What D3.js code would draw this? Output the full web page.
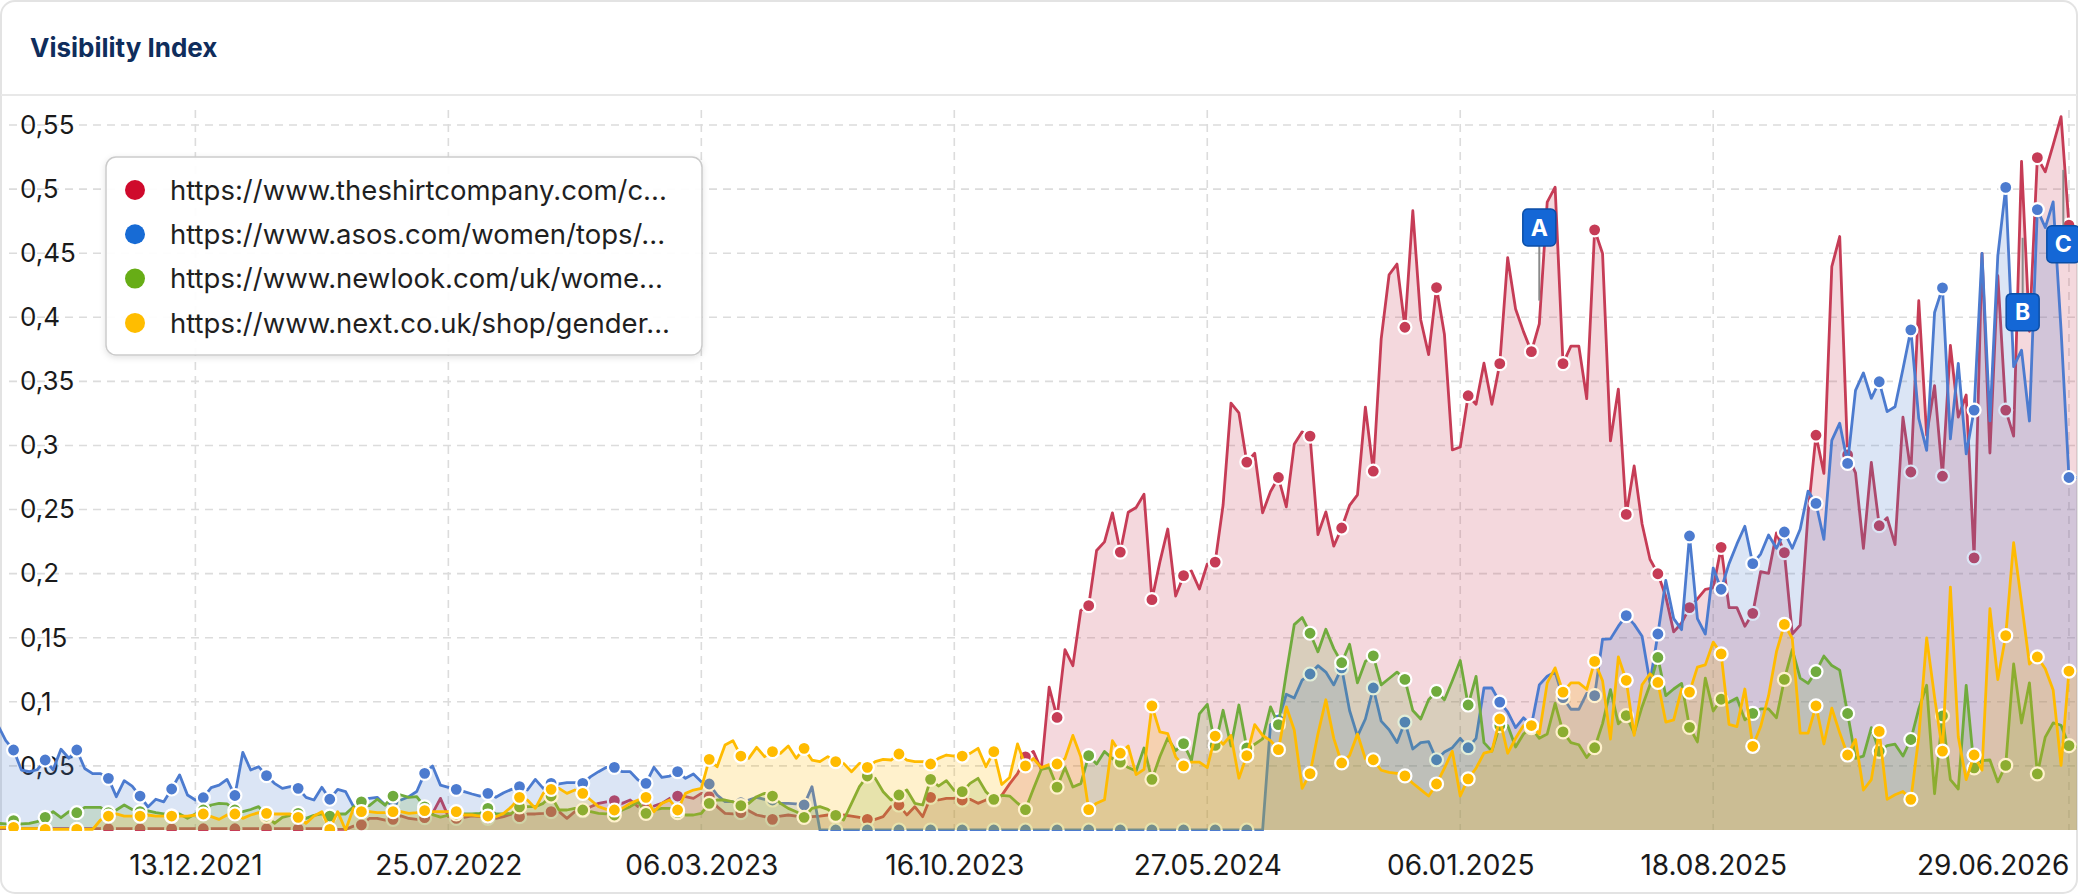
<!DOCTYPE html>
<html>
<head>
<meta charset="utf-8">
<script src="https://cdn.jsdelivr.net/npm/d3@7"></script>
<style>
  html, body { margin: 0; padding: 0; background: #fff; }
  svg { display: block; font-family: Inter, "Noto Sans", sans-serif; }
</style>
</head>
<body>
<div id="container"></div>
<script>
/* CONSTANTS AND GLOBALS */
const width = 2078;
const height = 896;
const plot = { left: 0, right: 2078, top: 110, bottom: 830 };

/* DATA */
const seriesNames = [
  "https://www.theshirtcompany.com/c...",
  "https://www.asos.com/women/tops/...",
  "https://www.newlook.com/uk/wome...",
  "https://www.next.co.uk/shop/gender..."
];
const lineColors = ["#c63c56", "#4c7bcf", "#70ab3d", "#ffbb00"];
const legendColors = ["#cf0a2c", "#176bd5", "#67ad16", "#ffbd00"];

// weekly values, first week 21.06.2021
const firstWeek = "21.06.2021";

const red = [
  0.001, 0.001, 0.001, 0.001, 0.001, 0.001, 0.001, 0.001, 0.001, 0.001,
  0.001, 0.001, 0.001, 0.001, 0.001, 0.001, 0.001, 0.001, 0.001, 0.001,
  0.001, 0.001, 0.001, 0.001, 0.001, 0.001, 0.001, 0.001, 0.001, 0.001,
  0.001, 0.001, 0.001, 0.001, 0.001, 0.001, 0.001, 0.001, 0.001, 0.001,
  0.001, 0.001, 0.001, 0.0005, 0.0005, 0.003, 0.004, 0.009, 0.009, 0.0078,
  0.0083, 0.011, 0.009, 0.0083, 0.0096, 0.013, 0.0247, 0.0104, 0.009, 0.0099,
  0.011, 0.0104, 0.009, 0.009, 0.0104, 0.0125, 0.0104, 0.0125, 0.0125, 0.013,
  0.0143, 0.0143, 0.0091, 0.0143, 0.015, 0.0182, 0.0208, 0.022, 0.0229, 0.0208,
  0.0234, 0.0182, 0.0169, 0.0187, 0.0208, 0.0247, 0.0265, 0.026, 0.0247, 0.0286,
  0.026, 0.0182, 0.013, 0.0125, 0.0135, 0.015, 0.0117, 0.0104, 0.0083, 0.0109,
  0.0117, 0.0109, 0.0104, 0.0104, 0.0109, 0.0117, 0.0104, 0.0117, 0.0109, 0.0099,
  0.0083, 0.0083, 0.0104, 0.0182, 0.0195, 0.0117, 0.0182, 0.0104, 0.0255, 0.0234,
  0.0247, 0.0247, 0.0234, 0.0239, 0.0208, 0.0234, 0.0234, 0.027, 0.036, 0.044,
  0.0571, 0.0613, 0.0472, 0.1115, 0.0878, 0.1407, 0.1282, 0.1713, 0.175, 0.2181,
  0.2248, 0.2474, 0.2168, 0.2479, 0.2516, 0.2619, 0.1797, 0.209, 0.2348, 0.1825,
  0.1984, 0.202, 0.188, 0.2075, 0.209, 0.2535, 0.333, 0.3254, 0.287, 0.2939,
  0.2474, 0.2641, 0.275, 0.2521, 0.3009, 0.3106, 0.3073, 0.2305, 0.2482, 0.2215,
  0.2356, 0.2532, 0.2615, 0.3299, 0.2799, 0.3831, 0.4332, 0.4415, 0.3922, 0.4831,
  0.3981, 0.3708, 0.4232, 0.3865, 0.2965, 0.2988, 0.3388, 0.3321, 0.3642, 0.3321,
  0.3638, 0.4465, 0.4065, 0.3888, 0.3732, 0.3948, 0.4899, 0.5015, 0.3638, 0.3775,
  0.3775, 0.3365, 0.4682, 0.4498, 0.3035, 0.344, 0.2462, 0.284, 0.2387, 0.2112,
  0.1999, 0.1821, 0.1546, 0.1615, 0.1735, 0.1803, 0.1878, 0.1889, 0.2205, 0.1735,
  0.1735, 0.159, 0.169, 0.2016, 0.2002, 0.2318, 0.2164, 0.1529, 0.1598, 0.2473,
  0.308, 0.2782, 0.4395, 0.463, 0.2926, 0.2786, 0.2197, 0.2867, 0.2374, 0.2437,
  0.2227, 0.3221, 0.2793, 0.4129, 0.308, 0.3467, 0.276, 0.378, 0.3221, 0.3394,
  0.2123, 0.4498, 0.2941, 0.4324, 0.3276, 0.3073, 0.5216, 0.3891, 0.5245, 0.5135,
  0.5345, 0.5565, 0.4719, 0.46
];

const blue = [
  0.082, 0.070, 0.0624, 0.0468, 0.0455, 0.047, 0.0546, 0.047, 0.063, 0.056,
  0.0624, 0.048, 0.044, 0.044, 0.0403, 0.026, 0.0385, 0.0343, 0.0265, 0.018,
  0.024, 0.022, 0.032, 0.043, 0.0273, 0.0234, 0.0252, 0.033, 0.035, 0.0395,
  0.0269, 0.0606, 0.0468, 0.0494, 0.0424, 0.0364, 0.0325, 0.0338, 0.0325, 0.0255,
  0.0234, 0.0333, 0.024, 0.0317, 0.0299, 0.0182, 0.022, 0.0247, 0.0255, 0.0195,
  0.022, 0.0234, 0.026, 0.03, 0.0442, 0.05, 0.035, 0.0333, 0.0317, 0.03,
  0.0281, 0.0265, 0.0286, 0.0255, 0.0291, 0.0317, 0.0338, 0.0312, 0.0395, 0.0325,
  0.0364, 0.0359, 0.0369, 0.0369, 0.0364, 0.0416, 0.0455, 0.0489, 0.0489, 0.0455,
  0.0455, 0.039, 0.0364, 0.0489, 0.0411, 0.0421, 0.0455, 0.0403, 0.0437, 0.0377,
  0.0359, 0.0273, 0.0221, 0.0221, 0.0213, 0.0234, 0.0255, 0.0239, 0.0234, 0.0208,
  0.0208, 0.0203, 0.0195, 0.0338, 0, 0, 0, 0, 0, 0,
  0, 0, 0, 0, 0, 0, 0, 0, 0, 0,
  0, 0, 0, 0, 0, 0, 0, 0, 0, 0,
  0, 0, 0, 0, 0, 0, 0, 0, 0, 0,
  0, 0, 0, 0, 0, 0, 0, 0, 0, 0,
  0, 0, 0, 0, 0, 0, 0, 0, 0, 0,
  0, 0.0822, 0.0858, 0.1059, 0.103, 0.117, 0.1217, 0.1282, 0.1232, 0.1132,
  0.1265, 0.0932, 0.0732, 0.0866, 0.1108, 0.0849, 0.0782, 0.0682, 0.0842, 0.0632,
  0.0682, 0.0689, 0.0548, 0.0608, 0.0642, 0.0715, 0.0642, 0.0715, 0.1108, 0.1108,
  0.0998, 0.0922, 0.0799, 0.0875, 0.0815, 0.1132, 0.1199, 0.1232, 0.1032, 0.0942,
  0.0942, 0.1066, 0.1048, 0.1488, 0.1491, 0.159, 0.1672, 0.1604, 0.1511, 0.115,
  0.1529, 0.1947, 0.1649, 0.1563, 0.2294, 0.1649, 0.1529, 0.2044, 0.1878, 0.2078,
  0.2232, 0.237, 0.2078, 0.2153, 0.2301, 0.2198, 0.2325, 0.2198, 0.2346, 0.2644,
  0.2548, 0.2267, 0.304, 0.3174, 0.286, 0.343, 0.3566, 0.3368, 0.3497, 0.3264,
  0.3302, 0.3596, 0.3902, 0.321, 0.2962, 0.4037, 0.4229, 0.3051, 0.364, 0.2934,
  0.3276, 0.4498, 0.3191, 0.448, 0.5013, 0.3615, 0.3743, 0.3191, 0.484, 0.47,
  0.49, 0.39, 0.275, 0.275
];

const green = [
  0.0052, 0.0047, 0.0073, 0.0047, 0.0052, 0.0065, 0.0099, 0.0143, 0.0096, 0.0143,
  0.0135, 0.0177, 0.0177, 0.0177, 0.0135, 0.0156, 0.0195, 0.016, 0.0143, 0.015,
  0.0135, 0.0125, 0.0109, 0.0125, 0.0091, 0.0125, 0.0156, 0.0195, 0.0208, 0.0203,
  0.0156, 0.0143, 0.016, 0.0182, 0.0109, 0.0052, 0.0099, 0.0114, 0.013, 0.0091,
  0.0114, 0.0125, 0.0109, 0.0125, 0.0125, 0.0182, 0.022, 0.019, 0.024, 0.0195,
  0.0265, 0.0273, 0.0255, 0.026, 0.018, 0.012, 0.010, 0.0115, 0.0125, 0.0125,
  0.0125, 0.013, 0.0169, 0.0125, 0.0125, 0.013, 0.018, 0.0182, 0.0182, 0.0208,
  0.0265, 0.0156, 0.0156, 0.0169, 0.0156, 0.0143, 0.013, 0.0125, 0.0117, 0.0156,
  0.0182, 0.022, 0.013, 0.0156, 0.0169, 0.0169, 0.0135, 0.0117, 0.0117, 0.013,
  0.0208, 0.0234, 0.0234, 0.022, 0.019, 0.0208, 0.026, 0.0286, 0.0265, 0.0208,
  0.0169, 0.0143, 0.0099, 0.0169, 0.0182, 0.0161, 0.0114, 0.0078, 0.0208, 0.0338,
  0.0421, 0.0403, 0.0299, 0.0234, 0.0273, 0.0312, 0.0208, 0.0195, 0.0395, 0.0343,
  0.0385, 0.0307, 0.0299, 0.0364, 0.0403, 0.0299, 0.0239, 0.027, 0.0265, 0.0209,
  0.0159, 0.032, 0.0473, 0.0487, 0.0335, 0.0487, 0.0335, 0.0362, 0.058, 0.0515,
  0.0613, 0.0557, 0.053, 0.0487, 0.046, 0.064, 0.0395, 0.0571, 0.0718, 0.0619,
  0.0674, 0.0543, 0.0906, 0.098, 0.066, 0.0934, 0.0655, 0.0975, 0.064, 0.0669,
  0.0711, 0.0961, 0.0822, 0.1225, 0.1602, 0.1658, 0.1535, 0.139, 0.1566, 0.1415,
  0.1305, 0.1449, 0.1148, 0.1315, 0.1359, 0.1132, 0.1182, 0.1232, 0.1175, 0.0932,
  0.0866, 0.1016, 0.1082, 0.1016, 0.1165, 0.1322, 0.0975, 0.1199, 0.0682, 0.0615,
  0.0815, 0.0815, 0.0648, 0.0749, 0.0799, 0.0715, 0.0749, 0.0988, 0.0765, 0.0682,
  0.0665, 0.0566, 0.0642, 0.083, 0.1095, 0.0828, 0.0893, 0.0756, 0.0962, 0.1133,
  0.1346, 0.1048, 0.11, 0.1144, 0.0801, 0.0687, 0.1185, 0.0928, 0.102, 0.0996,
  0.103, 0.0859, 0.091, 0.0945, 0.0945, 0.0876, 0.1175, 0.1408, 0.1185, 0.1144,
  0.1236, 0.1357, 0.1283, 0.1247, 0.0909, 0.0559, 0.0577, 0.0798, 0.0614, 0.0658,
  0.0669, 0.0577, 0.0706, 0.0945, 0.1129, 0.0283, 0.089, 0.0393, 0.032, 0.1129,
  0.0485, 0.0541, 0.0546, 0.0375, 0.0504, 0.1295, 0.0835, 0.1148, 0.0438, 0.0725,
  0.0835, 0.0817, 0.0658, 0.065
];

const yellow = [
  0.002, 0.002, 0.002, 0.001, 0.001, 0.001, 0.0005, 0.0005, 0.0005, 0.0005,
  0.0005, 0.0005, 0.0005, 0.0078, 0.0109, 0.0125, 0.0109, 0.0109, 0.0109, 0.0117,
  0.0109, 0.0109, 0.0109, 0.0109, 0.0109, 0.0117, 0.0125, 0.0104, 0.0083, 0.0117,
  0.0125, 0.0091, 0.0117, 0.0135, 0.013, 0.0125, 0.0125, 0.0125, 0.0099, 0.0052,
  0.0109, 0.0143, 0.0005, 0.0143, 0, 0.0169, 0.0143, 0.0143, 0.0135, 0.0135,
  0.0143, 0.0143, 0.013, 0.0135, 0.0151, 0.0143, 0.0143, 0.0143, 0.0143, 0.0117,
  0.0117, 0.0109, 0.0109, 0.0104, 0.013, 0.0182, 0.0255, 0.0234, 0.0169, 0.0286,
  0.0317, 0.0325, 0.0286, 0.0312, 0.0286, 0.0234, 0.0182, 0.0161, 0.0156, 0.0169,
  0.0208, 0.0234, 0.0255, 0.0143, 0.0208, 0.0234, 0.0156, 0.0286, 0.0312, 0.0325,
  0.0551, 0.0494, 0.0663, 0.0697, 0.0577, 0.0559, 0.0645, 0.0572, 0.0611, 0.0598,
  0.0655, 0.0559, 0.0637, 0.0546, 0.0533, 0.0572, 0.0533, 0.052, 0.0455, 0.052,
  0.0489, 0.0533, 0.0551, 0.0546, 0.0593, 0.0546, 0.0533, 0.0533, 0.0515, 0.0559,
  0.0585, 0.0577, 0.0577, 0.0598, 0.0637, 0.0494, 0.0611, 0.0355, 0.041, 0.0672,
  0.05, 0.0557, 0.0487, 0.051, 0.0515, 0.0557, 0.0738, 0.0571, 0.0159, 0.0209,
  0.0236, 0.0697, 0.0599, 0.0655, 0.0432, 0.0473, 0.0968, 0.0766, 0.0752, 0.0571,
  0.05, 0.053, 0.053, 0.0487, 0.0733, 0.0669, 0.0738, 0.0404, 0.058, 0.0822,
  0.0738, 0.0697, 0.0627, 0.0961, 0.078, 0.0325, 0.044, 0.075, 0.1016, 0.0715,
  0.0523, 0.0582, 0.0749, 0.0555, 0.0548, 0.0466, 0.0449, 0.0442, 0.0422, 0.0365,
  0.0315, 0.0265, 0.0359, 0.0482, 0.0615, 0.0265, 0.0399, 0.0482, 0.0599, 0.0615,
  0.0866, 0.0599, 0.0715, 0.0815, 0.0815, 0.0749, 0.1148, 0.1265, 0.1076, 0.1148,
  0.1148, 0.1098, 0.1315, 0.1165, 0.071, 0.135, 0.1168, 0.0739, 0.1133, 0.1219,
  0.1151, 0.0842, 0.0859, 0.11, 0.1076, 0.1271, 0.1288, 0.1466, 0.1374, 0.0824,
  0.0807, 0.11, 0.0653, 0.0807, 0.1048, 0.1391, 0.1604, 0.1494, 0.0756, 0.0756,
  0.0969, 0.0671, 0.095, 0.0758, 0.0585, 0.0706, 0.0312, 0.0393, 0.0769, 0.0239,
  0.0275, 0.0301, 0.0239, 0.0725, 0.1498, 0.1037, 0.0615, 0.1895, 0.0725, 0.0393,
  0.0585, 0.0467, 0.1726, 0.1174, 0.1516, 0.2241, 0.1774, 0.1295, 0.135, 0.1258,
  0.1093, 0.0504, 0.124, 0.124
];

const xTickLabels = ["13.12.2021", "25.07.2022", "06.03.2023", "16.10.2023",
  "27.05.2024", "06.01.2025", "18.08.2025", "29.06.2026"];
const xDomain = ["23.06.2021", "07.07.2026"];
const yTicks = [0.05, 0.1, 0.15, 0.2, 0.25, 0.3, 0.35, 0.4, 0.45, 0.5, 0.55];

const flagLabels = ["A", "B", "C"];
const flagDates = ["17.03.2025", "19.05.2026", "24.06.2026"];
const flagPointValues = [0.413, 0.462, 0.515];
const flagBoxValues = [0.47, 0.404, 0.457];

/* SCALES */
const parseDate = d3.timeParse("%d.%m.%Y");
const start = parseDate(firstWeek);
const seriesValues = [red, blue, green, yellow];
const series = seriesValues.map((vals, s) => ({
  name: seriesNames[s],
  color: lineColors[s],
  points: vals.map((v, i) => ({ date: d3.timeWeek.offset(start, i), value: v, i: i }))
}));

const xScale = d3.scaleTime()
  .domain(xDomain.map(parseDate))
  .range([plot.left, plot.right]);

const yScale = d3.scaleLinear()
  .domain([0, 0.55])
  .range([plot.bottom, 125]);

const de = d3.formatLocale({ decimal: ",", thousands: ".", grouping: [3], currency: ["", " €"] });

/* HTML ELEMENTS */
const svg = d3.select("#container")
  .append("svg")
  .attr("width", width)
  .attr("height", height);

const defs = svg.append("defs");
defs.append("clipPath").attr("id", "plotClip")
  .append("rect")
  .attr("x", plot.left).attr("y", 100)
  .attr("width", plot.right - plot.left).attr("height", plot.bottom - 100 + 1);
const shadow = defs.append("filter").attr("id", "shadow")
  .attr("x", "-10%").attr("y", "-10%").attr("width", "120%").attr("height", "130%");
shadow.append("feDropShadow")
  .attr("dx", 0).attr("dy", 2).attr("stdDeviation", 3)
  .attr("flood-color", "#000").attr("flood-opacity", 0.12);

// card
svg.append("rect")
  .attr("x", 1).attr("y", 1)
  .attr("width", width - 2).attr("height", height - 4)
  .attr("rx", 14)
  .attr("fill", "#fff")
  .attr("stroke", "#e3e3e3")
  .attr("stroke-width", 2);

svg.append("text")
  .attr("x", 30).attr("y", 57)
  .attr("fill", "#0f2d5c")
  .style("font-size", "26px")
  .style("font-weight", 700)
  .text("Visibility Index");

svg.append("line")
  .attr("x1", 1).attr("x2", width - 1)
  .attr("y1", 95).attr("y2", 95)
  .attr("stroke", "#e8e8e8")
  .attr("stroke-width", 2);

// grid
const tickDates = xTickLabels.map(parseDate);
svg.append("g")
  .selectAll("line")
  .data(yTicks)
  .join("line")
  .attr("x1", 9).attr("x2", plot.right)
  .attr("y1", d => yScale(d)).attr("y2", d => yScale(d))
  .attr("stroke", "#dcdcdc")
  .attr("stroke-width", 1.6)
  .attr("stroke-dasharray", "8,6");

svg.append("g")
  .selectAll("line")
  .data(tickDates)
  .join("line")
  .attr("x1", d => xScale(d)).attr("x2", d => xScale(d))
  .attr("y1", plot.top).attr("y2", plot.bottom)
  .attr("stroke", "#dcdcdc")
  .attr("stroke-width", 1.6)
  .attr("stroke-dasharray", "8,6");

// y labels (inside the plot)
const yAxis = svg.append("g")
  .attr("transform", `translate(20,0)`)
  .call(d3.axisRight(yScale).tickValues(yTicks).tickSize(0).tickPadding(0).tickFormat(de.format(".2~f")));
yAxis.select(".domain").remove();
yAxis.selectAll("text")
  .attr("fill", "#1a1a1a")
  .style("font-family", "Inter, sans-serif")
  .style("font-size", "26px");

// x labels
const xAxis = svg.append("g")
  .attr("transform", `translate(0,${plot.bottom})`)
  .call(d3.axisBottom(xScale).tickValues(tickDates).tickSize(0).tickPadding(25)
    .tickFormat(d3.timeFormat("%d.%m.%Y")));
xAxis.select(".domain").remove();
xAxis.selectAll("text")
  .attr("fill", "#1a1a1a")
  .style("font-family", "Inter, sans-serif")
  .style("font-size", "28px")
  .attr("text-anchor", (d, i) => i === tickDates.length - 1 ? "end" : "middle");

// series
const area = d3.area()
  .x(d => xScale(d.date))
  .y0(yScale(0))
  .y1(d => yScale(d.value));
const line = d3.line()
  .x(d => xScale(d.date))
  .y(d => yScale(d.value));

const plotG = svg.append("g").attr("clip-path", "url(#plotClip)");

plotG.selectAll("g.series")
  .data(series)
  .join("g")
  .attr("class", "series")
  .each(function (s) {
    const g = d3.select(this);
    g.append("path")
      .attr("d", area(s.points))
      .attr("fill", s.color)
      .attr("fill-opacity", 0.2);
    g.append("path")
      .attr("d", line(s.points))
      .attr("fill", "none")
      .attr("stroke", s.color)
      .attr("stroke-width", 2.8)
      .attr("stroke-linejoin", "round");
    g.selectAll("circle")
      .data(s.points.filter(p => p.i % 4 === 2))
      .join("circle")
      .attr("cx", d => xScale(d.date))
      .attr("cy", d => yScale(d.value))
      .attr("r", 6.5)
      .attr("fill", s.color)
      .attr("stroke", "#fff")
      .attr("stroke-width", 2.2);
  });

// flags
const flags = flagLabels.map((label, i) => ({
  label: label,
  date: parseDate(flagDates[i]),
  point: flagPointValues[i],
  box: flagBoxValues[i]
}));
const flagW = 33, flagH = 37;
const flagG = svg.append("g")
  .selectAll("g")
  .data(flags)
  .join("g");
flagG.append("line")
  .attr("x1", d => xScale(d.date)).attr("x2", d => xScale(d.date))
  .attr("y1", d => yScale(d.point))
  .attr("y2", d => yScale(d.box) + (d.point > d.box ? -flagH / 2 : flagH / 2))
  .attr("stroke", "#8a8a8a")
  .attr("stroke-width", 2);
flagG.append("rect")
  .attr("x", d => xScale(d.date) - flagW / 2)
  .attr("y", d => yScale(d.box) - flagH / 2)
  .attr("width", flagW).attr("height", flagH)
  .attr("rx", 5)
  .attr("fill", "#1467d6")
  .attr("stroke", "#0b4ea6")
  .attr("stroke-width", 1.5);
flagG.append("text")
  .attr("x", d => xScale(d.date))
  .attr("y", d => yScale(d.box))
  .attr("dy", "0.36em")
  .attr("text-anchor", "middle")
  .attr("fill", "#fff")
  .style("font-size", "23px")
  .style("font-weight", 700)
  .text(d => d.label);

// legend
const legend = svg.append("g").attr("transform", "translate(106,157)");
legend.append("rect")
  .attr("width", 596).attr("height", 198)
  .attr("rx", 10)
  .attr("fill", "#fff")
  .attr("fill-opacity", 0.96)
  .attr("stroke", "#cbcbcb")
  .attr("stroke-width", 1.5)
  .attr("filter", "url(#shadow)");
const items = legend.selectAll("g.item")
  .data(series)
  .join("g")
  .attr("class", "item")
  .attr("transform", (d, i) => `translate(0,${33 + i * 44.3})`);
items.append("circle")
  .attr("cx", 29).attr("r", 10)
  .attr("fill", (d, i) => legendColors[i]);
items.append("text")
  .attr("x", 64)
  .attr("dy", "0.35em")
  .attr("fill", "#1f1f1f")
  .style("font-size", "27.5px")
  .text(d => d.name);
</script>
</body>
</html>
